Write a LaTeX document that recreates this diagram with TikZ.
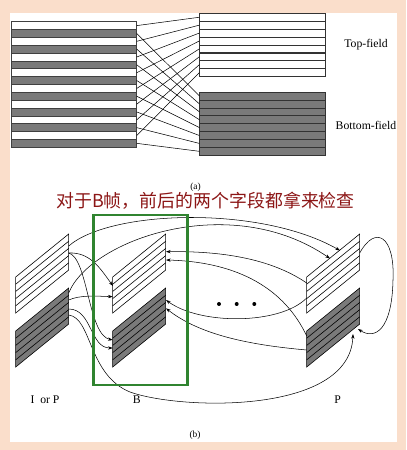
\documentclass[tikz,border=0pt]{standalone}
\usepackage{fontspec}
\setmainfont{Liberation Serif}
\newfontfamily\cjk{Noto Sans CJK SC}
\definecolor{SlidePeach}{RGB}{250, 222, 203}
\definecolor{FieldGray}{RGB}{122, 122, 122}
\definecolor{NoteRed}{RGB}{140, 22, 22}
\definecolor{BoxGreen}{RGB}{48, 132, 48}
\usetikzlibrary{arrows.meta, positioning, calc}

% striped field, left x, top-left y, fill
\newcommand{\fieldpar}[3]{%
  \filldraw[fill=#3, draw=black, line width=0.5pt] (#1,#2) -- ++(53,-43) -- ++(0,36) -- ++(-53,43) -- cycle;
  \foreach \k in {1,...,4} \draw[line width=0.5pt] (#1,{#2+7.2*\k}) -- ++(53,-43);
}

\begin{document}
\begin{tikzpicture}[
    x=0.03cm, y=-0.03cm,
    every node/.style={font=\fontsize{10}{12}\selectfont, align=center},
    stripe/.style={draw=black!75, line width=0.5pt, minimum width=3.775cm,
                   minimum height=0.236cm, inner sep=0pt, outer sep=0pt},
    wire/.style={line width=0.45pt},
    fwd/.style={wire, -{Stealth[length=4pt, width=2.8pt]}},
    caption/.style={font=\fontsize{8}{9}\selectfont},
    note/.style={font=\cjk\fontsize{15.3}{18}\selectfont, text=NoteRed},
    focus/.style={draw=BoxGreen, line width=2.4pt}
]
\useasboundingbox (0,0) rectangle (406,450);
\fill[SlidePeach] (0,0) rectangle (406,450);
\fill[white] (10,13.3) rectangle (397.3,441.7);

% (a) frame and its two fields
\foreach \i in {0,...,7} {
  \node[stripe, fill=white] (Lw\i) at (73.85, {25.6+15.7*\i}) {};
  \node[stripe, fill=FieldGray] (Lg\i) at (73.85, {33.45+15.7*\i}) {};
  \node[stripe, fill=white, draw=black!80] (T\i) at (262.3, {17.25+7.9*\i}) {};
  \node[stripe, fill=FieldGray, draw=black!80] (Bt\i) at (262.3, {95.95+7.91*\i}) {};
}
\foreach \i in {0,...,7} {
  \draw[wire] (Lw\i.east) -- (T\i.west);
  \draw[wire] (Lg\i.east) -- (Bt\i.west);
}
\node (topl) at (366,45) {Top-field};
\node (botl) at (366,125) {Bottom-field};
\node[caption] (capa) at (195.5,187) {(a)};
\node[note] (note) at (205.5,200.5) {对于B帧，前后的两个字段都拿来检查};

% (b) fields of the three frames
\fieldpar{15.7}{277}{white}
\fieldpar{15.7}{331}{FieldGray}
\fieldpar{112.7}{277}{white}
\fieldpar{112.7}{331}{FieldGray}
\fieldpar{306.7}{277}{white}
\fieldpar{306.7}{331}{FieldGray}

\coordinate (ipw-a) at (68.7,246);
\coordinate (ipw-b) at (68.7,253);
\coordinate (ipg-a) at (68.7,293);
\coordinate (ipg-b) at (68.7,300);
\coordinate (ipg-c) at (68.7,309);
\coordinate (ipg-d) at (68.7,315);
\coordinate (bw-l1) at (113,286);
\coordinate (bw-l2) at (112.7,296.7);
\coordinate (bg-l1) at (112.7,340);
\coordinate (bg-l2) at (112.7,348);
\coordinate (bw-r1) at (166,251.7);
\coordinate (bw-r2) at (166,260);
\coordinate (bg-r1) at (166,300);
\coordinate (bg-r2) at (166,308.3);
\coordinate (pw-t1) at (340,250.5);
\coordinate (pw-t2) at (330,258.5);
\coordinate (pw-l1) at (306.7,283);
\coordinate (pw-l2) at (306.7,298);
\coordinate (pw-r) at (359.7,253);
\coordinate (pg-l1) at (306.7,336);
\coordinate (pg-l2) at (306.7,350);
\coordinate (pg-b) at (353,334);
\coordinate (pg-r) at (358,329);

\draw[fwd] (ipw-a) .. controls (110,210) and (260,205) .. (pw-t1);
\draw[fwd] (ipg-a) .. controls (90,240) and (230,190) .. (pw-t2);
\draw[fwd] (ipw-b) .. controls (90,252) and (100,268) .. (bw-l1);
\draw[fwd] (ipw-b) .. controls (88,258) and (88,335) .. (bg-l1);
\draw[fwd] (ipg-b) .. controls (80,295) and (95,296) .. (bw-l2);
\draw[fwd] (ipg-c) .. controls (92,309) and (90,348) .. (bg-l2);
\draw[fwd] (ipg-d) .. controls (92,318) and (88,375) .. (130,392)
                   .. controls (180,410) and (350,415) .. (pg-b);
\draw[fwd] (pw-r) .. controls (375,225) and (395,235) .. (393,280)
                  .. controls (392,330) and (375,340) .. (pg-r);
\draw[fwd] (pw-l1) .. controls (270,258) and (220,251) .. (bw-r1);
\draw[fwd] (pg-l1) .. controls (285,290) and (240,262) .. (bw-r2);
\draw[fwd] (pw-l2) .. controls (280,325) and (200,325) .. (bg-r1);
\draw[fwd] (pg-l2) .. controls (250,345) and (200,335) .. (bg-r2);

\foreach \dx in {219,236.7,254.3} \fill (\dx,304) circle (1.7pt);

\node (labip) at (45,400) {I~~or P};
\node (labb) at (136.7,400) {B};
\node (labp) at (337.7,400) {P};
\node[caption] (capb) at (195,435.7) {(b)};

\draw[focus] (93.3,215) rectangle (187.3,385);
\end{tikzpicture}
\end{document}
